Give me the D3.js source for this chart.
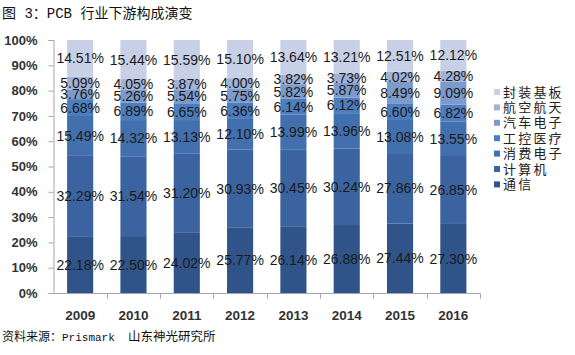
<!DOCTYPE html>
<html><head><meta charset="utf-8">
<script src="https://cdn.jsdelivr.net/npm/d3@7"></script>
<style>
html,body{margin:0;padding:0;background:#fff;}
svg{display:block;}
</style></head>
<body>
<svg id="chart" width="575" height="355"></svg>
<script>
const years = ["2009","2010","2011","2012","2013","2014","2015","2016"];
const seriesNames = ["通信","计算机","消费电子","工控医疗","汽车电子","航空航天","封装基板"];
const tongxin   = [22.18,22.50,24.02,25.77,26.14,26.88,27.44,27.30];
const jisuanji  = [32.29,31.54,31.20,30.93,30.45,30.24,27.86,26.85];
const xiaofei   = [15.49,14.32,13.13,12.10,13.99,13.96,13.08,13.55];
const gongkong  = [6.68,6.89,6.65,6.36,6.14,6.12,6.60,6.82];
const qiche     = [3.76,5.26,5.54,5.75,5.82,5.87,8.49,9.09];
const hangkong  = [5.09,4.05,3.87,4.00,3.82,3.73,4.02,4.28];
const fengzhuang= [14.51,15.44,15.59,15.10,13.64,13.21,12.51,12.12];
const yTicks = [0,10,20,30,40,50,60,70,80,90,100];
const colors = ["#30548A","#3A63A0","#4270AE","#4D7DBE","#7D9ACC","#A0B2D7","#C7D0E6"];

const seriesVals = [tongxin,jisuanji,xiaofei,gongkong,qiche,hangkong,fengzhuang];
const rows = years.map((y,i)=>{const r={year:y}; seriesNames.forEach((s,k)=>r[s]=seriesVals[k][i]); return r;});

const svg = d3.select("#chart");
const x = d3.scaleBand().domain(years).range([53.5,480]).paddingInner(0.51).paddingOuter(0.255);
const y = d3.scaleLinear().domain([0,100]).range([293,40]);

const stack = d3.stack().keys(seriesNames)(rows);

const g = svg.append("g");
stack.forEach((layer,k)=>{
  g.selectAll(null).data(layer).enter().append("rect")
    .attr("x",d=>x(d.data.year)).attr("width",x.bandwidth())
    .attr("y",d=>y(Math.min(d[1],100))).attr("height",d=>y(d[0])-y(Math.min(d[1],100)))
    .attr("fill",colors[k]);
});

// axes
const yAxis = svg.append("g").attr("transform","translate(53.5,0)")
  .call(d3.axisLeft(y).tickValues(yTicks).tickFormat(d=>d+"%").tickSize(5).tickPadding(11));
yAxis.select(".domain").attr("stroke","#A6A6A6");
yAxis.selectAll(".tick line").attr("stroke","#A6A6A6");
yAxis.selectAll("text").attr("font-family","Liberation Sans, Arial, sans-serif").attr("font-size",13).attr("font-weight","bold").attr("fill","#333");

const xAxis = svg.append("g").attr("transform","translate(0,293.5)")
  .call(d3.axisBottom(x).tickSize(0).tickPadding(17));
xAxis.select(".domain").attr("stroke","#A6A6A6").attr("d","M53.5,0H480");
xAxis.selectAll("text").attr("font-family","Liberation Sans, Arial, sans-serif").attr("font-size",13.5).attr("font-weight","bold").attr("fill","#333");
const step = x.step();
const bounds = d3.range(years.length+1).map(i=>53.5+i*step);
xAxis.selectAll("line.bnd").data(bounds.slice(1)).enter().append("line")
  .attr("x1",d=>Math.round(d)+0.5).attr("x2",d=>Math.round(d)+0.5).attr("y1",0).attr("y2",5).attr("stroke","#A6A6A6");

// data labels
stack.forEach((layer,k)=>{
  g.selectAll(null).data(layer).enter().append("text")
    .attr("x",d=>x(d.data.year)+x.bandwidth()/2)
    .attr("y",d=>y((d[0]+Math.min(d[1],100))/2))
    .attr("dy","0.36em").attr("text-anchor","middle")
    .attr("font-family","Liberation Sans, Arial, sans-serif").attr("font-size",14).attr("fill","#1a1a1a")
    .text(d=>(d[1]-d[0]).toFixed(2)+"%");
});

// legend
const legend = svg.append("g");
const legOrder = seriesNames.slice().reverse();
legOrder.forEach((s,i)=>{
  const k = seriesNames.indexOf(s);
  const cy = 92 + i*15.4;
  legend.append("rect").attr("x",494).attr("y",cy-3).attr("width",6).attr("height",6).attr("fill",colors[k]);
  legend.append("text").attr("x",503).attr("y",cy).attr("dy","0.36em")
    .attr("font-family","Noto Sans CJK SC, sans-serif").attr("font-size",13).attr("letter-spacing",2.2).attr("fill","#222").text(s);
});

// title & source
const cjk = "Noto Sans CJK SC, sans-serif", mono = "Liberation Mono, DejaVu Sans Mono, monospace";
const title = svg.append("text").attr("x",2).attr("y",18).attr("font-size",14).attr("fill","#111");
[["图",cjk],[" 3",mono],["：",cjk],["PCB ",mono],["行业下游构成演变",cjk]].forEach(([t,f])=>
  title.append("tspan").attr("font-family",f).style("white-space","pre").text(t));
const src = svg.append("text").attr("x",2).attr("y",341).attr("fill","#111");
[["资料来源：",cjk,12],["Prismark  ",mono,11],["山东神光研究所",cjk,12.5]].forEach(([t,f,s])=>
  src.append("tspan").attr("font-family",f).attr("font-size",s).style("white-space","pre").text(t));
</script>
</body></html>
